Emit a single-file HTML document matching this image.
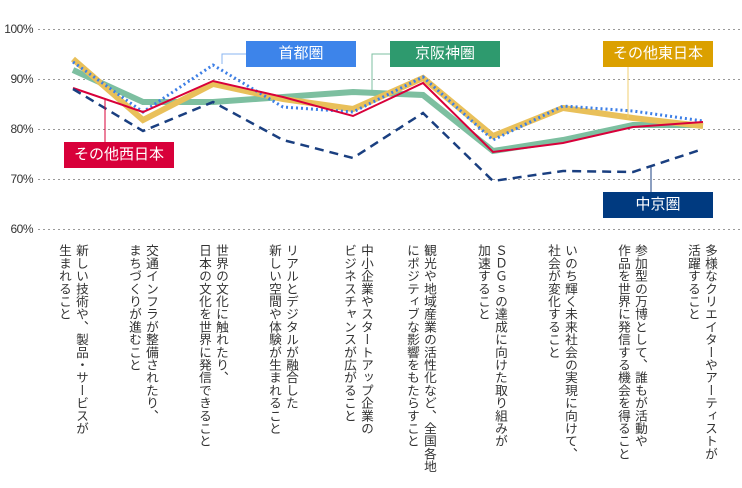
<!DOCTYPE html>
<html><head><meta charset="utf-8"><style>
html,body{margin:0;padding:0;background:#fff;}
body{width:742px;height:488px;position:relative;overflow:hidden;font-family:"Liberation Sans","Noto Sans CJK JP",sans-serif;}
.yl{position:absolute;right:709px;font-size:12px;color:#333;letter-spacing:-0.5px;line-height:14px;}
.cat{position:absolute;top:244px;width:34px;writing-mode:vertical-rl;font-size:12.7px;line-height:17px;color:#333;white-space:nowrap;}
.box{position:absolute;width:110px;height:26px;line-height:26px;text-align:center;color:#fff;font-size:15px;}
</style></head><body>
<div class="yl" style="top:22px">100%</div>
<div class="yl" style="top:72px">90%</div>
<div class="yl" style="top:122px">80%</div>
<div class="yl" style="top:172px">70%</div>
<div class="yl" style="top:222px">60%</div>
<svg width="742" height="488" style="position:absolute;left:0;top:0">
<g stroke="#999" stroke-width="1" stroke-dasharray="2,3">
<line x1="38" y1="29.5" x2="740" y2="29.5"/><line x1="38" y1="79.5" x2="740" y2="79.5"/><line x1="38" y1="129.5" x2="740" y2="129.5"/><line x1="38" y1="179.5" x2="740" y2="179.5"/><line x1="38" y1="229.5" x2="740" y2="229.5"/>
</g>
<g fill="none" stroke-linejoin="miter">
<polyline stroke="#7dbfa0" stroke-width="6" points="73,70 143,102 213,102 283,97 353,92 423,95 493,151 563,140 633,125 703,125"/>
<polyline stroke="#e9c05a" stroke-width="6" points="73,59 143,120 213,84 283,99 353,109 423,78 493,136 563,108 633,118 703,126"/>
<polyline stroke="#3d7fe6" stroke-width="3" stroke-dasharray="2,3" points="73,62 143,112 213,65 283,107 353,112 423,77 493,140 563,106 633,111 703,121"/>
<polyline stroke="#d8003a" stroke-width="2" points="73,88 143,112 213,81 283,97 353,116 423,83 493,152 563,143 633,127 703,122"/>
<polyline stroke="#1a3f80" stroke-width="2.5" stroke-dasharray="9,6" points="73,89 143,131 213,102 283,140 353,158 423,113 493,181 563,171 633,172 703,149"/>
</g>
<g fill="none" stroke-width="1">
<polyline stroke="#8ab4f0" points="222,64 222,54 246,54"/>
<polyline stroke="#7dbfa0" points="372,92 372,54 390,54"/>
<line stroke="#f0cf70" x1="628" y1="67" x2="628" y2="118"/>
<line stroke="#1a3f80" x1="651" y1="167" x2="651" y2="192"/>
<line stroke="#d8003a" x1="105" y1="99" x2="105" y2="142"/>
</g>
</svg>
<div class="box" style="left:246px;top:41px;background:#3d84ea">首都圏</div>
<div class="box" style="left:390px;top:41px;background:#2e9a6e">京阪神圏</div>
<div class="box" style="left:603px;top:41px;background:#dba000">その他東日本</div>
<div class="box" style="left:603px;top:192px;background:#003a80">中京圏</div>
<div class="box" style="left:64px;top:142px;background:#d8003a">その他西日本</div>
<div class="cat" style="left:55px">新しい技術や、製品・サービスが<br>生まれること</div>
<div class="cat" style="left:125px">交通インフラが整備されたり、<br>まちづくりが進むこと</div>
<div class="cat" style="left:195px">世界の文化に触れたり、<br>日本の文化を世界に発信できること</div>
<div class="cat" style="left:265px">リアルとデジタルが融合した<br>新しい空間や体験が生まれること</div>
<div class="cat" style="left:340px">中小企業やスタートアップ企業の<br>ビジネスチャンスが広がること</div>
<div class="cat" style="left:403px">観光や地域産業の活性化など、全国各地<br>にポジティブな影響をもたらすこと</div>
<div class="cat" style="left:474px">ＳＤＧｓの達成に向けた取り組みが<br>加速すること</div>
<div class="cat" style="left:544px">いのち輝く未来社会の実現に向けて、<br>社会が変化すること</div>
<div class="cat" style="left:614px">参加型の万博として、誰もが活動や<br>作品を世界に発信する機会を得ること</div>
<div class="cat" style="left:684px">多様なクリエイターやアーティストが<br>活躍すること</div>
</body></html>
